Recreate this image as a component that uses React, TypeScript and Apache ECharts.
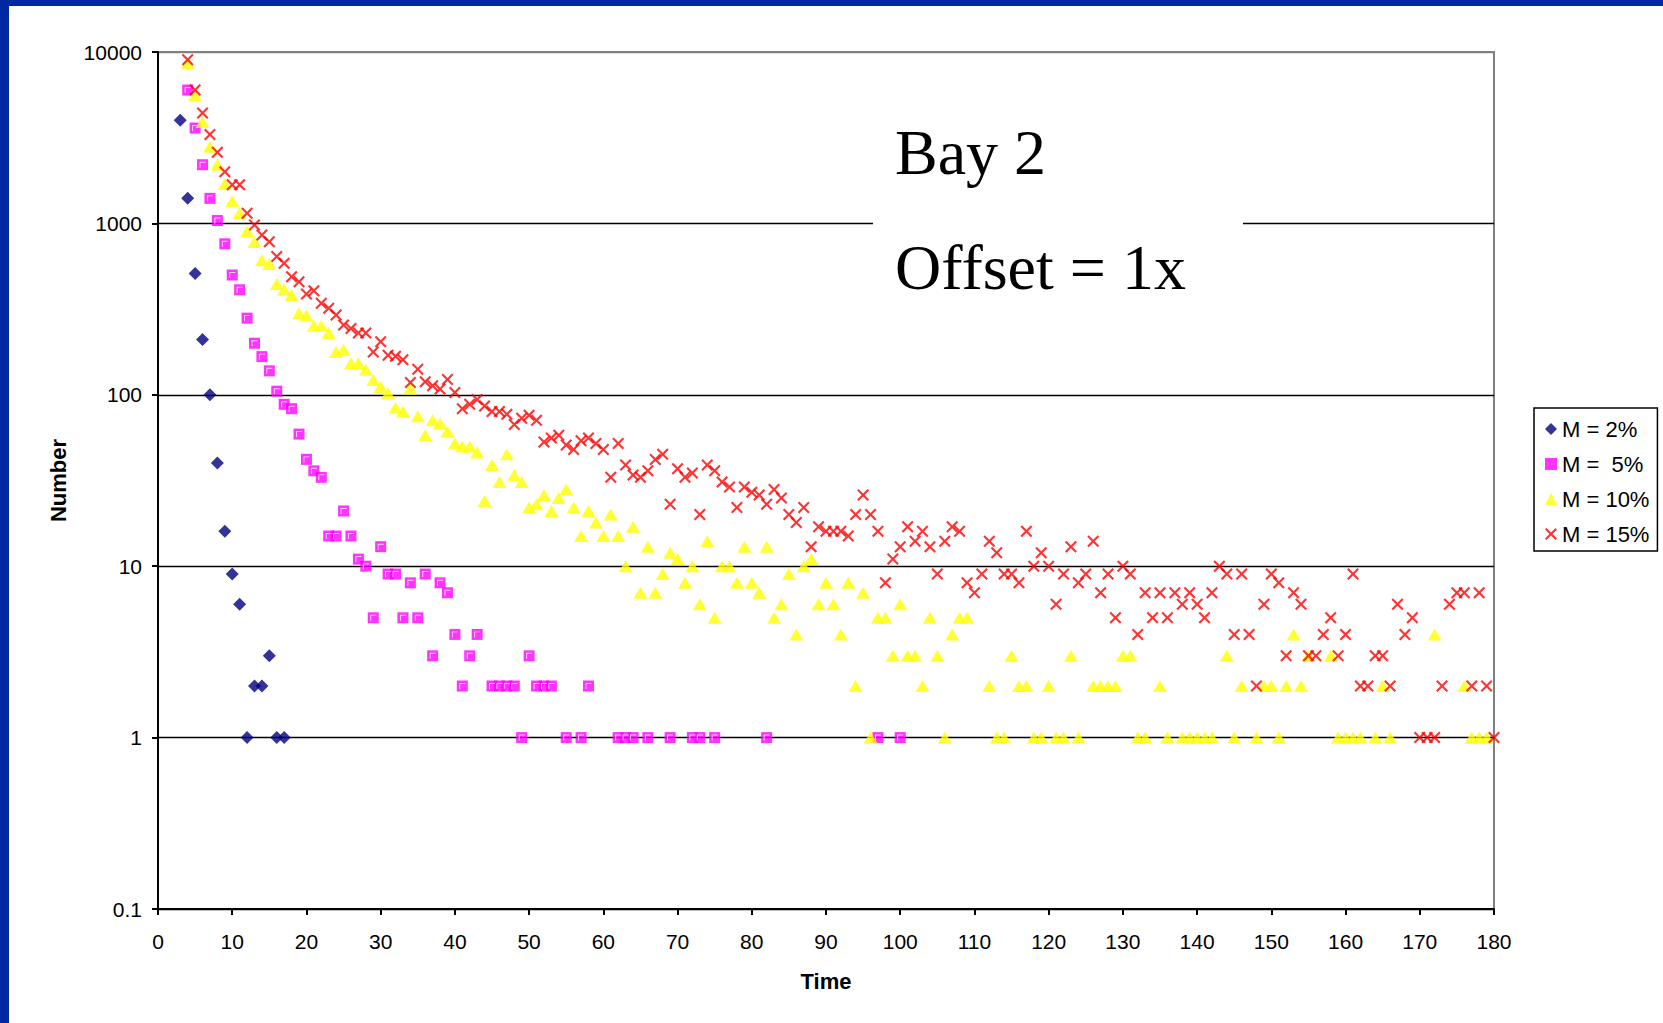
import React, { useEffect, useRef } from "react";
import * as echarts from "echarts";

// ---- Data ----
const m2Times = [3, 4, 5, 6, 7, 8, 9, 10, 11, 12, 13, 14, 15, 16, 17];
const m2Values = [4000, 1400, 510, 210, 100, 40, 16, 9, 6, 1, 2, 2, 3, 1, 1];

const m5Times = [4, 5, 6, 7, 8, 9, 10, 11, 12, 13, 14, 15, 16, 17, 18, 19, 20, 21, 22, 23, 24, 25, 26, 27, 28, 29, 30, 31, 32, 33, 34, 35, 36, 37, 38, 39, 40, 41, 42, 43, 45, 46, 47, 48, 49, 50, 51, 52, 53, 55, 57, 58, 62, 63, 64, 66, 69, 72, 73, 75, 82, 97, 100];
const m5Values = [6000, 3600, 2200, 1400, 1040, 760, 500, 410, 280, 200, 167, 138, 105, 88, 83, 59, 42, 36, 33, 15, 15, 21, 15, 11, 10, 5, 13, 9, 9, 5, 8, 5, 9, 3, 8, 7, 4, 2, 3, 4, 2, 2, 2, 2, 1, 3, 2, 2, 2, 1, 1, 2, 1, 1, 1, 1, 1, 1, 1, 1, 1, 1, 1];

const m10Times = [4, 5, 6, 7, 8, 9, 10, 11, 12, 13, 14, 15, 16, 17, 18, 19, 20, 21, 22, 23, 24, 25, 26, 27, 28, 29, 30, 31, 32, 33, 34, 35, 36, 37, 38, 39, 40, 41, 42, 43, 44, 45, 46, 47, 48, 49, 50, 51, 52, 53, 54, 55, 56, 57, 58, 59, 60, 61, 62, 63, 64, 65, 66, 67, 68, 69, 70, 71, 72, 73, 74, 75, 76, 77, 78, 79, 80, 81, 82, 83, 84, 85, 86, 87, 88, 89, 90, 91, 92, 93, 94, 95, 96, 97, 98, 99, 100, 101, 102, 103, 104, 105, 106, 107, 108, 109, 112, 113, 114, 115, 116, 117, 118, 119, 120, 121, 122, 123, 124, 126, 127, 128, 129, 130, 131, 132, 133, 135, 136, 138, 139, 140, 141, 142, 144, 145, 146, 148, 149, 150, 151, 152, 153, 154, 155, 158, 159, 160, 161, 162, 164, 165, 166, 172, 176, 177, 178, 179];
const m10Values = [8600, 5600, 3900, 2800, 2200, 1700, 1350, 1150, 900, 780, 610, 580, 443, 412, 382, 299, 290, 253, 253, 229, 178, 183, 153, 153, 140, 122, 111, 102, 84, 80, 109, 75, 58, 71, 68, 61, 52, 50, 50, 46, 24, 39, 31, 45, 34, 31, 22, 23, 26, 21, 25, 28, 22, 15, 21, 18, 15, 20, 15, 10, 17, 7, 13, 7, 9, 12, 11, 8, 10, 6, 14, 5, 10, 10, 8, 13, 8, 7, 13, 5, 6, 9, 4, 10, 11, 6, 8, 6, 4, 8, 2, 7, 1, 5, 5, 3, 6, 3, 3, 2, 5, 3, 1, 4, 5, 5, 2, 1, 1, 3, 2, 2, 1, 1, 2, 1, 1, 3, 1, 2, 2, 2, 2, 3, 3, 1, 1, 2, 1, 1, 1, 1, 1, 1, 3, 1, 2, 1, 2, 2, 1, 2, 4, 2, 3, 3, 1, 1, 1, 1, 1, 2, 1, 4, 2, 1, 1, 1];

const m15Times = [4, 5, 6, 7, 8, 9, 10, 11, 12, 13, 14, 15, 16, 17, 18, 19, 20, 21, 22, 23, 24, 25, 26, 27, 28, 29, 30, 31, 32, 33, 34, 35, 36, 37, 38, 39, 40, 41, 42, 43, 44, 45, 46, 47, 48, 49, 50, 51, 52, 53, 54, 55, 56, 57, 58, 59, 60, 61, 62, 63, 64, 65, 66, 67, 68, 69, 70, 71, 72, 73, 74, 75, 76, 77, 78, 79, 80, 81, 82, 83, 84, 85, 86, 87, 88, 89, 90, 91, 92, 93, 94, 95, 96, 97, 98, 99, 100, 101, 102, 103, 104, 105, 106, 107, 108, 109, 110, 111, 112, 113, 114, 115, 116, 117, 118, 119, 120, 121, 122, 123, 124, 125, 126, 127, 128, 129, 130, 131, 132, 133, 134, 135, 136, 137, 138, 139, 140, 141, 142, 143, 144, 145, 146, 147, 148, 149, 150, 151, 152, 153, 154, 155, 156, 157, 158, 159, 160, 161, 162, 163, 164, 165, 166, 167, 168, 169, 170, 171, 172, 173, 174, 175, 176, 177, 178, 179, 180];
const m15Values = [9000, 6000, 4400, 3300, 2600, 2000, 1680, 1680, 1145, 980, 855, 782, 640, 585, 489, 457, 387, 405, 342, 320, 292, 255, 244, 229, 229, 178, 204, 170, 168, 160, 118, 141, 119, 113, 108, 123, 103, 83, 88, 94, 86, 80, 80, 77, 67, 73, 76, 71, 53, 56, 58, 51, 48, 54, 56, 52, 48, 33, 52, 39, 34, 33, 36, 42, 45, 23, 37, 33, 35, 20, 39, 36, 31, 29, 22, 29, 27, 26, 23, 28, 25, 20, 18, 22, 13, 17, 16, 16, 16, 15, 20, 26, 20, 16, 8, 11, 13, 17, 14, 16, 13, 9, 14, 17, 16, 8, 7, 9, 14, 12, 9, 9, 8, 16, 10, 12, 10, 6, 9, 13, 8, 9, 14, 7, 9, 5, 10, 9, 4, 7, 5, 7, 5, 7, 6, 7, 6, 5, 7, 10, 9, 4, 9, 4, 2, 6, 9, 8, 3, 7, 6, 3, 3, 4, 5, 3, 4, 9, 2, 2, 3, 3, 2, 6, 4, 5, 1, 1, 1, 2, 6, 7, 7, 2, 7, 2, 1];

const seriesNames = ["M = 2%", "M =  5%", "M = 10%", "M = 15%"];
const xTickLabels = ["0", "10", "20", "30", "40", "50", "60", "70", "80", "90", "100", "110", "120", "130", "140", "150", "160", "170", "180"];
const yTickLabels = ["0.1", "1", "10", "100", "1000", "10000"];
const titleLines = ["Bay 2", "Offset = 1x"];
const xAxisTitle = "Time";
const yAxisTitle = "Number";

const SANS = '"Liberation Sans", Arial, sans-serif';
const SERIF = '"Liberation Serif", "Times New Roman", serif';

const zip = (xs: number[], ys: number[]) => xs.map((x, i) => [x, ys[i]]);

const X_PATH = "path://M0,1.25 L1.25,0 L5,3.75 L8.75,0 L10,1.25 L6.25,5 L10,8.75 L8.75,10 L5,6.25 L1.25,10 L0,8.75 L3.75,5 Z";
const HL_PATH = "path://M0,0 L10,0 L10,1.6 L1.6,1.6 L1.6,10 L0,10 Z";

export default function App() {
  const ref = useRef<HTMLDivElement>(null);

  useEffect(() => {
    if (!ref.current) return;
    const chart = echarts.init(ref.current, null, { renderer: "svg" });
    const option: any = {
      animation: false,
      backgroundColor: "#ffffff",
      grid: {
        left: 158,
        right: 169,
        top: 52,
        bottom: 114,
        show: true,
        borderColor: "#808080",
        borderWidth: 2,
        backgroundColor: "transparent",
      },
      xAxis: {
        type: "value",
        min: 0,
        max: 180,
        interval: 10,
        name: xAxisTitle,
        nameLocation: "middle",
        nameGap: 61,
        nameTextStyle: { fontFamily: SANS, fontSize: 22, fontWeight: "bold", color: "#000" },
        axisLine: { show: true, onZero: false, lineStyle: { color: "#000", width: 2 } },
        axisTick: { show: true, inside: false, length: 6, lineStyle: { color: "#000", width: 2 } },
        axisLabel: {
          margin: 22,
          fontFamily: SANS,
          fontSize: 21,
          color: "#000",
          formatter: (v: number) => xTickLabels[Math.round(v / 10)] ?? "",
        },
        splitLine: { show: false },
      },
      yAxis: {
        type: "log",
        logBase: 10,
        min: 0.1,
        max: 10000,
        name: yAxisTitle,
        nameLocation: "middle",
        nameGap: 89,
        nameTextStyle: { fontFamily: SANS, fontSize: 22, fontWeight: "bold", color: "#000" },
        axisLine: { show: true, lineStyle: { color: "#000", width: 2 } },
        axisTick: { show: true, inside: false, length: 6, lineStyle: { color: "#000", width: 2 } },
        axisLabel: {
          margin: 16,
          fontFamily: SANS,
          fontSize: 21,
          color: "#000",
          formatter: (v: number) => yTickLabels[Math.round(Math.log10(v)) + 1] ?? "",
        },
        splitLine: {
          show: true,
          lineStyle: { color: ["#000", "#000", "#000", "#000", "#000", "#808080"], width: 1.4 },
        },
      },
      legend: {
        orient: "vertical",
        left: 1534,
        top: 408,
        padding: [9, 8, 5, 11],
        itemGap: 11,
        itemWidth: 12,
        itemHeight: 12,
        backgroundColor: "#ffffff",
        borderColor: "#000000",
        borderWidth: 1.5,
        borderRadius: 0,
        textStyle: { fontFamily: SANS, fontSize: 22, color: "#000", lineHeight: 24 },
        data: seriesNames,
      },
      series: [
        {
          name: seriesNames[0],
          type: "scatter",
          data: zip(m2Times, m2Values),
          symbol: "diamond",
          symbolSize: 13,
          itemStyle: { color: "#000080" },
          z: 2,
        },
        {
          name: seriesNames[1],
          type: "scatter",
          data: zip(m5Times, m5Values),
          symbol: "rect",
          symbolSize: 11,
          itemStyle: { color: "#ff00ff" },
          z: 3,
        },
        {
          name: "m5hl",
          type: "scatter",
          data: zip(m5Times, m5Values),
          symbol: HL_PATH,
          symbolSize: 6,
          itemStyle: { color: "#ffffff" },
          silent: true,
          z: 3,
        },
        {
          name: seriesNames[2],
          type: "scatter",
          data: zip(m10Times, m10Values),
          symbol: "triangle",
          symbolSize: [14, 12],
          itemStyle: { color: "#ffff00" },
          z: 4,
        },
        {
          name: seriesNames[3],
          type: "scatter",
          data: zip(m15Times, m15Values),
          symbol: X_PATH,
          symbolSize: 12,
          itemStyle: { color: "#ff0000" },
          z: 5,
        },
      ],
      graphic: [
        { type: "rect", z: 100, shape: { x: 0, y: 0, width: 1663, height: 6 }, style: { fill: "#0028a0" } },
        { type: "rect", z: 100, shape: { x: 0, y: 0, width: 9, height: 1023 }, style: { fill: "#0028a0" } },
        { type: "rect", z: 10, shape: { x: 873, y: 100, width: 370, height: 225 }, style: { fill: "#ffffff" } },
        {
          type: "text",
          z: 11,
          x: 895,
          y: 152,
          style: { text: titleLines[0], font: `64px ${SERIF}`, fill: "#000", verticalAlign: "middle", align: "left" },
        },
        {
          type: "text",
          z: 11,
          x: 895,
          y: 267,
          style: { text: titleLines[1], font: `64px ${SERIF}`, fill: "#000", verticalAlign: "middle", align: "left" },
        },
      ],
    };
    chart.setOption(option);
    return () => chart.dispose();
  }, []);

  return (
    <div
      ref={ref}
      style={{ position: "fixed", left: 0, top: 0, width: 1663, height: 1023, background: "#fff" }}
    />
  );
}
